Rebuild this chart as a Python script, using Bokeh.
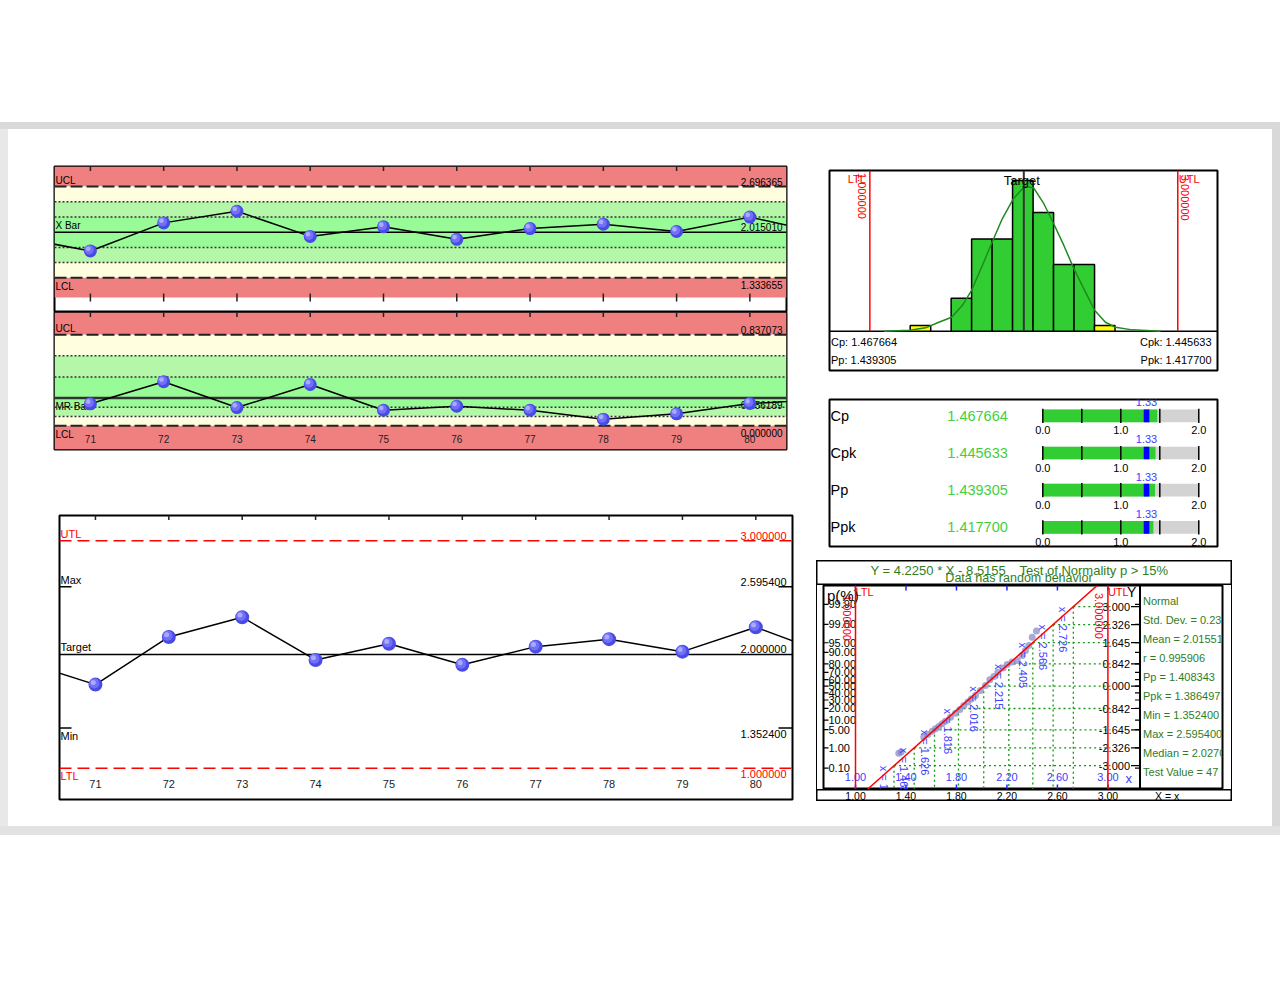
import math
from bokeh.plotting import figure
from bokeh.models import Range1d, Span, Slope, Spacer, BoxAnnotation, ColumnDataSource
from bokeh.layouts import row, column
from bokeh.embed import file_html
from bokeh.resources import INLINE
from bokeh.core.properties import value
from bokeh.transform import dodge

FONT = "Liberation Sans"

# ---------------- data ----------------
sample_no = [70, 71, 72, 73, 74, 75, 76, 77, 78, 79, 80, 81]
sample_val = [1.940, 1.735, 2.154, 2.328, 1.952, 2.095, 1.909, 2.069, 2.135, 2.025, 2.240, 2.000]
mr_no = [71, 72, 73, 74, 75, 76, 77, 78, 79, 80, 81]
mr_val = [0.202, 0.405, 0.168, 0.380, 0.143, 0.180, 0.143, 0.061, 0.110, 0.205, 0.240]
tick_no = [71, 72, 73, 74, 75, 76, 77, 78, 79, 80]
tick_lbl = ["71", "72", "73", "74", "75", "76", "77", "78", "79", "80"]

xbar_ucl, xbar_cl, xbar_lcl = 2.696365, 2.015010, 1.333655
xbar_txt = ["2.696365", "2.015010", "1.333655"]
xbar_view = (1.04, 2.9957)
mr_ucl, mr_cl, mr_lcl = 0.837073, 0.256189, 0.0
mr_txt = ["0.837073", "0.256189", "0.000000"]
mr_view = (-0.218, 1.042)

spec_utl, spec_target, spec_ltl = 3.0, 2.0, 1.0
spec_txt = ["3.000000", "2.000000", "1.000000"]
data_max, data_min = 2.5954, 1.3524
minmax_txt = ["2.595400", "1.352400"]

hist_left = [1.262, 1.395, 1.528, 1.661, 1.794, 1.927, 2.060, 2.193, 2.326, 2.459]
hist_width = 0.1335
hist_count = [1.0, 0.0, 5.7, 15.9, 15.9, 26.0, 20.5, 11.5, 11.5, 1.0]
hist_outer = [True, False, False, False, False, False, False, False, False, True]
curve_x = [1.091, 1.26, 1.362, 1.448, 1.531, 1.60, 1.66, 1.73, 1.795, 1.86, 1.931, 2.005,
           2.065, 2.13, 2.195, 2.26, 2.325, 2.39, 2.461, 2.53, 2.595, 2.704, 2.888]
curve_y = [0.0, 0.17, 0.58, 1.55, 2.42, 4.43, 7.02, 11.3, 15.4, 19.4, 22.8, 25.0,
           24.7, 22.0, 18.5, 14.8, 10.8, 7.3, 3.57, 1.55, 0.69, 0.23, 0.0]
hist_stats_left = ["Cp: 1.467664", "Pp: 1.439305"]
hist_stats_right = ["Cpk: 1.445633", "Ppk: 1.417700"]

cap_names = ["Cp", "Cpk", "Pp", "Ppk"]
cap_vals = [1.467664, 1.445633, 1.439305, 1.417700]
cap_txt = ["1.467664", "1.445633", "1.439305", "1.417700"]
cap_goal = 1.33
gauge_max = 2.0
gauge_ticks = [0.0, 0.5, 1.0, 1.5, 2.0]
gauge_lbl_at = [0.0, 1.0, 2.0]
gauge_lbl = ["0.0", "1.0", "2.0"]

fit_slope, fit_icpt = 4.2250, -8.5155
q_z = [-3.0, -2.326, -1.645, -0.842, 0.0, 0.842, 1.645, 2.326, 3.0]
q_x = [1.305, 1.465, 1.626, 1.816, 2.016, 2.215, 2.405, 2.566, 2.726]
q_lbl = ["x = 1.305", "x = 1.465", "x = 1.626", "x = 1.816", "x = 2.016",
         "x = 2.215", "x = 2.405", "x = 2.566", "x = 2.726"]
z_lbl = ["-3.000", "-2.326", "-1.645", "-0.842", "0.000", "0.842", "1.645", "2.326", "3.000"]
p_lbl = ["99.90", "99.00", "95.00", "90.00", "80.00", "70.00", "60.00", "50.00",
         "40.00", "30.00", "20.00", "10.00", "5.00", "1.00", "0.10"]
p_z = [3.09, 2.33, 1.64, 1.28, 0.84, 0.52, 0.25, 0.0, -0.25, -0.52, -0.84, -1.28, -1.64, -2.33, -3.09]
nx_ticks = [1.0, 1.4, 1.8, 2.2, 2.6, 3.0]
nx_lbl = ["1.00", "1.40", "1.80", "2.20", "2.60", "3.00"]
pts_x = [1.343, 1.362, 1.541, 1.573, 1.608, 1.634, 1.660, 1.687, 1.713, 1.753, 1.792, 1.827,
         1.858, 1.890, 1.917, 1.951, 1.990, 2.030, 2.064, 2.096, 2.128, 2.170, 2.202, 2.241,
         2.281, 2.321, 2.347, 2.373, 2.400, 2.434]
pts_z = [-2.53, -2.48, -1.93, -1.82, -1.70, -1.61, -1.52, -1.42, -1.32, -1.17, -1.02, -0.88,
         -0.73, -0.60, -0.48, -0.35, -0.16, 0.03, 0.24, 0.37, 0.53, 0.69, 0.82, 0.91,
         0.97, 1.16, 1.35, 1.54, 1.85, 2.08]
stats_lines = ["Normal", "Std. Dev. = 0.23", "Mean = 2.01551", "r = 0.995906", "Pp = 1.408343",
               "Ppk = 1.386497", "Min = 1.352400", "Max = 2.595400", "Median = 2.0270",
               "Test Value = 47"]
title_eq = "Y = 4.2250 * X - 8.5155"
title_test = "Test of Normality p > 15%"
title_sub = "Data has random behavior"

# ---------------- styles ----------------
RED_Z, YEL_Z, LG_Z, G_Z = "#f08080", "#ffffe0", "#b5f7a9", "#98fb98"
BALL = ("#4a4ae4", "#7070f8", "#aaaaff")
DKGREEN = "#2f7d1f"
BLUE_T = "#3c3cff"
XR = (70.51, 80.50)


def mkfig(w, h, l, r, t, b, xr, yr, outline=2):
    p = figure(width=w, height=h, x_range=Range1d(*xr), y_range=Range1d(*yr),
               min_border_left=l, min_border_right=r, min_border_top=t, min_border_bottom=b,
               x_axis_type=None, y_axis_type=None, toolbar_location=None, output_backend="svg")
    p.outline_line_color = "black"
    p.outline_line_width = outline
    p.border_fill_color = "white"
    p.background_fill_color = "white"
    return p


def txt(p, xs, ys, ss, size="10px", color="black", align="left", baseline="middle",
        xo=0, yo=0, angle=0.0):
    p.text(x=xs, y=ys, text=ss, text_font=value(FONT), text_font_size=size, text_color=color,
           text_align=align, text_baseline=baseline, x_offset=xo, y_offset=yo, angle=angle)


def band(p, lo, hi, color):
    p.add_layout(BoxAnnotation(bottom=lo, top=hi, fill_color=color, fill_alpha=1.0,
                               line_color=None, level="underlay"))


def hline(p, y, color="black", width=1.5, dash="solid"):
    p.add_layout(Span(location=y, dimension="width", line_color=color, line_width=width,
                      line_dash=dash, level="underlay"))


def spheres(p, xs, ys, size, ux, uy):
    src = ColumnDataSource(dict(x=xs, y=ys))
    p.scatter("x", "y", source=src, size=size, fill_color=BALL[0], line_color=None)
    p.scatter(dodge("x", -1.2 * ux), dodge("y", 1.2 * uy), source=src, size=size * 0.72,
              fill_color=BALL[1], line_color=None)
    p.scatter(dodge("x", -2.2 * ux), dodge("y", 2.2 * uy), source=src, size=size * 0.36,
              fill_color=BALL[2], line_color=None)


# ---------------- X bar chart ----------------
xb_px = (xbar_view[1] - xbar_view[0]) / 131.0
fX = mkfig(807, 183, 46, 29, 37, 0, XR, (xbar_view[0] - 15 * xb_px, xbar_view[1]))
ux = (XR[1] - XR[0]) / 732.0
s = (xbar_ucl - xbar_cl) / 3
band(fX, xbar_ucl, xbar_view[1], RED_Z)
band(fX, xbar_cl + 2 * s, xbar_ucl, YEL_Z)
band(fX, xbar_cl + s, xbar_cl + 2 * s, LG_Z)
band(fX, xbar_cl - s, xbar_cl + s, G_Z)
band(fX, xbar_cl - 2 * s, xbar_cl - s, LG_Z)
band(fX, xbar_lcl, xbar_cl - 2 * s, YEL_Z)
band(fX, xbar_view[0], xbar_lcl, RED_Z)
for k in (-2, -1, 1, 2):
    hline(fX, xbar_cl + k * s, "#333333", 1.5, "2 2")
hline(fX, xbar_ucl, "#222222", 2, "12 4")
hline(fX, xbar_lcl, "#222222", 2, "12 4")
hline(fX, xbar_cl, "black", 1.5)
txt(fX, [XR[0]] * 2, [xbar_ucl, xbar_cl], ["UCL", "X Bar"], "10px", baseline="bottom", xo=1, yo=-1)
txt(fX, [XR[0]], [xbar_lcl], ["LCL"], "10px", baseline="top", xo=1, yo=3)
txt(fX, [XR[1]] * 2, [xbar_ucl, xbar_cl], xbar_txt[:2], "10px", align="right", baseline="bottom", xo=-4, yo=-1)
txt(fX, [XR[1]], [xbar_lcl], xbar_txt[2:], "10px", align="right", baseline="top", xo=-4, yo=3)
fX.scatter(tick_no, [xbar_view[1]] * len(tick_no), marker="dash", size=9, angle=math.pi / 2,
           line_color="#222222", line_width=1.5)
fX.scatter(tick_no, [xbar_view[0]] * len(tick_no), marker="dash", size=8, angle=math.pi / 2,
           line_color="#222222", line_width=1.5)
fX.line(sample_no, sample_val, line_color="black", line_width=1.5)
spheres(fX, sample_no, sample_val, 13, ux, xb_px)

# ---------------- MR chart ----------------
fMR = mkfig(807, 139, 46, 29, 0, 2, XR, mr_view)
mr_px = (mr_view[1] - mr_view[0]) / 137.0
su = (mr_ucl - mr_cl) / 3
sd = (mr_cl - mr_lcl) / 3
band(fMR, mr_ucl, mr_view[1], RED_Z)
band(fMR, mr_cl + 2 * su, mr_ucl, YEL_Z)
band(fMR, mr_cl + su, mr_cl + 2 * su, LG_Z)
band(fMR, mr_cl - sd, mr_cl + su, G_Z)
band(fMR, mr_cl - 2 * sd, mr_cl - sd, LG_Z)
band(fMR, mr_lcl, mr_cl - 2 * sd, YEL_Z)
band(fMR, mr_view[0], mr_lcl, RED_Z)
for yv in (mr_cl + su, mr_cl + 2 * su, mr_cl - sd, mr_cl - 2 * sd):
    hline(fMR, yv, "#333333", 1.5, "2 2")
hline(fMR, mr_ucl, "#222222", 2, "12 4")
hline(fMR, mr_lcl, "#222222", 2, "12 4")
hline(fMR, mr_cl, "#333333", 2.5)
txt(fMR, [XR[0]], [mr_ucl], ["UCL"], "10px", baseline="bottom", xo=1, yo=-1)
txt(fMR, [XR[0]] * 2, [mr_cl, mr_lcl], ["MR Bar", "LCL"], "10px", baseline="top", xo=1, yo=3)
txt(fMR, [XR[1]], [mr_ucl], mr_txt[:1], "10px", align="right", baseline="bottom", xo=-4, yo=-1)
txt(fMR, [XR[1]] * 2, [mr_cl, mr_lcl], mr_txt[1:], "10px", align="right", baseline="top", xo=-4, yo=3)
txt(fMR, tick_no, [mr_lcl] * len(tick_no), tick_lbl, "10px", "#222222", align="center",
    baseline="middle", yo=13)
fMR.scatter(tick_no, [mr_view[1]] * len(tick_no), marker="dash", size=9, angle=math.pi / 2,
            line_color="#222222", line_width=1.5)
fMR.line(mr_no, mr_val, line_color="black", line_width=1.5)
spheres(fMR, mr_no, mr_val, 13, ux, mr_px)

# ---------------- individual values chart ----------------
yB = (0.724, 3.223)
fB = mkfig(807, 375, 51, 23, 64, 27, XR, yB)
uxb = (XR[1] - XR[0]) / 733.0
uyb = (yB[1] - yB[0]) / 284.0
hline(fB, spec_utl, "red", 1.5, "12 6")
hline(fB, spec_ltl, "red", 1.5, "12 6")
hline(fB, spec_target, "black", 1.5)
fB.segment(x0=[XR[0], XR[1] - 14 * uxb, XR[0], XR[1] - 14 * uxb],
           y0=[data_max, data_max, data_min, data_min],
           x1=[XR[0] + 12 * uxb, XR[1], XR[0] + 12 * uxb, XR[1]],
           y1=[data_max, data_max, data_min, data_min], line_color="black", line_width=1.5)
txt(fB, [XR[0]], [spec_utl], ["UTL"], "11px", "red", baseline="bottom", xo=1, yo=-1)
txt(fB, [XR[1]], [spec_utl], spec_txt[:1], "11px", "red", align="right", baseline="bottom", xo=-6, yo=-1)
txt(fB, [XR[0]] * 2, [data_max, spec_target], ["Max", "Target"], "11px", baseline="bottom", xo=1, yo=-1)
txt(fB, [XR[1]] * 2, [data_max, spec_target], [minmax_txt[0], spec_txt[1]], "11px", align="right",
    baseline="bottom", xo=-6, yo=-1)
txt(fB, [XR[0]], [data_min], ["Min"], "11px", baseline="top", xo=1, yo=2)
txt(fB, [XR[1]], [data_min], minmax_txt[1:], "11px", align="right", baseline="top", xo=-6, yo=2)
txt(fB, [XR[0]], [spec_ltl], ["LTL"], "11px", "red", baseline="top", xo=1, yo=2)
txt(fB, [XR[1]], [spec_ltl], spec_txt[2:], "11px", "red", align="right", baseline="top", xo=-6, yo=2)
txt(fB, tick_no, [spec_ltl] * len(tick_no), tick_lbl, "11px", "#222222", align="center",
    baseline="middle", yo=16)
fB.scatter(tick_no, [yB[1]] * len(tick_no), marker="dash", size=9, angle=math.pi / 2,
           line_color="#222222", line_width=1.5)
fB.line(sample_no, sample_val, line_color="black", line_width=1.5)
spheres(fB, sample_no, sample_val, 14, uxb, uyb)

# ---------------- histogram ----------------
xH, yH = (0.738, 3.258), (-6.78, 27.73)
fH = mkfig(457, 256, 14, 55, 41, 15, xH, yH)
hline(fH, 0, "black", 1.5)
hl = [l for l, c in zip(hist_left, hist_count) if c > 0]
hc = [c for c in hist_count if c > 0]
hcol = ["#ffff00" if o else "#32cd32" for o, c in zip(hist_outer, hist_count) if c > 0]
fH.quad(left=hl, right=[l + hist_width for l in hl], bottom=0, top=hc, fill_color=hcol,
        line_color="black", line_width=1.5)
fH.line(curve_x, curve_y, line_color="#1f8a1f", line_width=1.5)
fH.segment(x0=[spec_ltl, spec_utl], y0=[0, 0], x1=[spec_ltl, spec_utl], y1=[yH[1]] * 2,
           line_color="red", line_width=1.5)
fH.segment(x0=[spec_target], y0=[0], x1=[spec_target], y1=[yH[1]], line_color="#333333", line_width=2)
txt(fH, [spec_target], [26.0], ["Target"], "13px", align="center", xo=-2)
txt(fH, [spec_ltl], [26.3], ["LTL"], "11px", "red", align="right", xo=-4)
txt(fH, [spec_utl], [26.3], ["UTL"], "11px", "red", align="left", xo=1)
txt(fH, [spec_ltl], [27.3], [spec_txt[2]], "11px", "red", align="left", xo=-7.6, angle=-math.pi / 2)
txt(fH, [spec_utl], [27.0], [spec_txt[0]], "11px", "red", align="left", xo=7, angle=-math.pi / 2)
txt(fH, [xH[0]] * 2, [-1.78, -5.05], hist_stats_left, "11px", xo=1.5)
txt(fH, [xH[1]] * 2, [-1.78, -5.05], hist_stats_right, "11px", align="right", xo=-6)

# ---------------- capability gauges ----------------
xG, yG = (-2.735, 2.240), (3.513, -0.438)
fG = mkfig(457, 168, 14, 55, 14, 7, xG, yG)
rows = list(range(len(cap_names)))
hh = 0.171
fG.quad(left=[0.0] * 4, right=[gauge_max] * 4, bottom=[r + hh for r in rows], top=[r - hh for r in rows],
        fill_color="#d3d3d3", line_color=None)
fG.quad(left=[0.0] * 4, right=cap_vals, bottom=[r + hh for r in rows], top=[r - hh for r in rows],
        fill_color="#32cd32", line_color=None)
fG.quad(left=[cap_goal - 0.036] * 4, right=[cap_goal + 0.036] * 4, bottom=[r + hh for r in rows],
        top=[r - hh for r in rows], fill_color="#0000ff", line_color=None)
tx0, ty0, ty1 = [], [], []
for r in rows:
    for t in gauge_ticks:
        tx0.append(t)
        ty0.append(r - hh - 0.02)
        ty1.append(r + hh + 0.02)
fG.segment(x0=tx0, y0=ty0, x1=tx0, y1=ty1, line_color="black", line_width=1.5)
txt(fG, [xG[0]] * 4, rows, cap_names, "14.5px", xo=1)
txt(fG, [-0.449] * 4, rows, cap_txt, "14.5px", "#3fcf3f", align="right")
lx, ly, lt = [], [], []
for r in rows:
    for a, t in zip(gauge_lbl_at, gauge_lbl):
        lx.append(a)
        ly.append(r + 0.395)
        lt.append(t)
txt(fG, lx, ly, lt, "11px", align="center")
txt(fG, [cap_goal] * 4, [r - 0.366 for r in rows], ["1.33"] * 4, "11px", BLUE_T, align="center")

# ---------------- normality plot ----------------
xN, zN = (0.7464, 3.908), (-3.898, 3.800)
uxn = (xN[1] - xN[0]) / 399.0
fN = mkfig(414, 204, 6, 9, 0, 0, xN, zN)
divider = 3.2544
grid_end = 3.02
fN.segment(x0=q_x, y0=q_z, x1=[grid_end] * len(q_x), y1=q_z, line_color="#119911",
           line_width=1.3, line_dash="2 3")
fN.segment(x0=q_x, y0=q_z, x1=q_x, y1=[zN[0]] * len(q_x), line_color="#119911",
           line_width=1.3, line_dash="2 3")
for xv in (spec_ltl, spec_utl):
    fN.add_layout(Span(location=xv, dimension="height", line_color="red", line_width=1.5))
fN.add_layout(Slope(gradient=fit_slope, y_intercept=fit_icpt, line_color="red", line_width=1.5))
fN.scatter(pts_x, pts_z, size=7, fill_color="#8585c4", fill_alpha=0.7, line_color=None)
txt(fN, q_x, q_z, q_lbl, "11px", BLUE_T, align="left", xo=-10, yo=0, angle=-math.pi / 2)
# left axis
fN.segment(x0=[xN[0]] * len(p_z), y0=p_z, x1=[xN[0] + 5 * uxn] * len(p_z), y1=p_z,
           line_color="black", line_width=1.2)
txt(fN, [xN[0]] * len(p_z), p_z, p_lbl, "11px", xo=5)
# right axis
fN.segment(x0=[divider - 9 * uxn] * len(q_z), y0=q_z, x1=[divider] * len(q_z), y1=q_z,
           line_color="black", line_width=1.2)
fN.segment(x0=[divider - 5 * uxn] * len(p_z), y0=p_z, x1=[divider] * len(p_z), y1=p_z,
           line_color="black", line_width=1.2)
txt(fN, [divider] * len(q_z), q_z, z_lbl, "11px", align="right", xo=-10)
# top / bottom blue ticks and inner labels
fN.scatter(nx_ticks, [zN[1]] * len(nx_ticks), marker="dash", size=10, angle=math.pi / 2,
           line_color="#2222ff", line_width=1.5)
fN.scatter(nx_ticks, [zN[0]] * len(nx_ticks), marker="dash", size=10, angle=math.pi / 2,
           line_color="#2222ff", line_width=1.5)
txt(fN, nx_ticks, [-3.42] * len(nx_ticks), nx_lbl, "11px", BLUE_T, align="center")
txt(fN, [3.166], [-3.48], ["x"], "13px", BLUE_T, align="center")
# limit labels
txt(fN, [spec_ltl], [3.56], ["LTL"], "11px", "red", align="left")
txt(fN, [spec_utl], [3.56], ["UTL"], "11px", "red", align="left")
txt(fN, [spec_ltl], [3.44], [spec_txt[2]], "11px", "red", align="left", xo=-8.3, angle=-math.pi / 2)
txt(fN, [spec_utl], [3.52], [spec_txt[0]], "11px", "red", align="left", xo=-9, angle=-math.pi / 2)
txt(fN, [xN[0]], [3.43], ["p(%)"], "15px", xo=3.5)
txt(fN, [spec_utl], [3.57], ["Y"], "14px", align="left", xo=19)
fN.add_layout(Span(location=divider, dimension="height", line_color="black", line_width=2))
# stats box text
txt(fN, [divider] * len(stats_lines), [zN[1]] * len(stats_lines), stats_lines, "11px", DKGREEN,
    align="left", xo=3, yo=[15.7 + 19.0 * i for i in range(len(stats_lines))])

# title strip and bottom strip of the normality box (same x scale as the plot)
xOut = (xN[0] - 7 * uxn, xN[1] + 10 * uxn)
fT = mkfig(416, 25, 0, 0, 0, 0, xOut, (0, 25))
txt(fT, [1.119], [15.2], [title_eq], "13px", DKGREEN, align="left")
txt(fT, [2.2995], [15.2], [title_test], "13px", DKGREEN, align="left")
txt(fT, [2.2956], [7.6], [title_sub], "12.5px", DKGREEN, align="center")
fBt = mkfig(416, 12, 0, 0, 0, 0, xOut, (0, 12))
txt(fBt, nx_ticks + [3.47], [5.2] * (len(nx_ticks) + 1), nx_lbl + ["X = x"], "10.5px", align="center")

# ---------------- page layout ----------------
GRAY = "#d9d9d9"
GRAY_L = "#e8e8e8"


def gspace(w, h, c=GRAY):
    return Spacer(width=w, height=h, styles={"background-color": c})


norm_box = column(fT, row(gspace(1, 204, "black"), fN, gspace(1, 204, "black")), fBt)
left = column(fX, fMR, row(fB))
right = column(fH, fG, Spacer(width=457, height=7),
               row(Spacer(width=1, height=241), norm_box, Spacer(width=40, height=241)),
               Spacer(width=457, height=25))
main = row(gspace(8, 697, GRAY_L), left, right, gspace(8, 697))
root = column(Spacer(width=1280, height=122), gspace(1280, 7), main, gspace(1280, 9, "#e2e2e2"))

open("out.html", "w").write(file_html(root, INLINE))
